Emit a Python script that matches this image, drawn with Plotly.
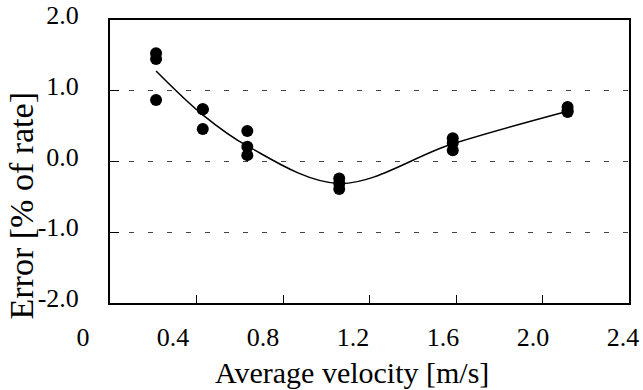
import plotly.graph_objects as go

# ---- data ----
velocity_groups = [0.213, 0.429, 0.635, 1.060, 1.585, 2.116]
point_velocity = [0.213, 0.213, 0.213,
                  0.429, 0.429, 0.429,
                  0.635, 0.635, 0.635,
                  1.060, 1.060, 1.060,
                  1.585, 1.585, 1.585,
                  2.116, 2.116, 2.116]
point_error = [1.53, 1.45, 0.87,
               0.74, 0.74, 0.46,
               0.43, 0.21, 0.09,
               -0.24, -0.31, -0.39,
               0.33, 0.26, 0.16,
               0.77, 0.72, 0.70]
curve_error = [1.28, 0.66, 0.22, -0.31, 0.25, 0.71]

x_tick_vals = [0, 0.4, 0.8, 1.2, 1.6, 2.0, 2.4]
x_tick_text = ["0", "0.4", "0.8", "1.2", "1.6", "2.0", "2.4"]
y_tick_vals = [-2, -1, 0, 1, 2]
y_tick_text = ["-2.0", "-1.0", "0.0", "1.0", "2.0"]

FONT = "'Liberation Serif', 'Times New Roman', Times, serif"
W, H = 643, 390
ML, MR, MT, MB = 80, 14, 20, 87
PW = W - ML - MR
PH = H - MT - MB

fig = go.Figure()

# invisible trace on the label axis (added first so it sits underneath)
fig.add_trace(go.Scatter(x=[None], y=[None], xaxis="x2", yaxis="y2",
                         mode="markers", showlegend=False, hoverinfo="skip"))

fig.add_trace(go.Scatter(
    x=velocity_groups, y=curve_error, mode="lines",
    line=dict(color="black", width=1.5, shape="spline", smoothing=1.0),
    showlegend=False, hoverinfo="skip"))

fig.add_trace(go.Scatter(
    x=point_velocity, y=point_error, mode="markers",
    marker=dict(color="black", size=12, line=dict(width=0)),
    showlegend=False))

fig.update_layout(
    width=W, height=H,
    margin=dict(l=ML, r=MR, t=MT, b=MB, pad=0, autoexpand=False),
    paper_bgcolor="white", plot_bgcolor="rgba(0,0,0,0)",
    font=dict(family=FONT, color="black"),
    xaxis=dict(
        domain=[(110 - ML) / PW, 1], range=[0, 2.4], automargin=False,
        tickvals=x_tick_vals, showticklabels=False,
        ticks="inside", ticklen=8, tickwidth=1, tickcolor="black",
        showline=True, linewidth=2, linecolor="black", mirror=True,
        showgrid=False, zeroline=False),
    yaxis=dict(
        range=[-2, 2], tickvals=y_tick_vals, ticktext=y_tick_text,
        automargin=False, ticklabeloverflow="allow",
        ticks="inside", ticklen=9, tickwidth=1, tickcolor="black",
        showline=True, linewidth=2, linecolor="black", mirror=True,
        showgrid=True, gridcolor="#444444", gridwidth=1, griddash="5px,14px",
        zeroline=False, tickfont=dict(size=26, family=FONT),
        ticklabelstandoff=24, ticklabelshift=-5),
    xaxis2=dict(
        domain=[(83 - ML) / PW, (623 - ML) / PW], range=[0, 2.4],
        anchor="y2", side="bottom", automargin=False,
        tickvals=x_tick_vals, ticktext=x_tick_text, ticks="",
        showline=False, showgrid=False, zeroline=False,
        tickfont=dict(size=26, family=FONT), ticklabelstandoff=16),
    yaxis2=dict(
        overlaying="y", anchor="x2", range=[-2, 2], automargin=False,
        showline=False, showgrid=False, zeroline=False,
        showticklabels=False, ticks=""),
    annotations=[
        dict(text="Error [% of rate]", textangle=-90,
             xref="paper", yref="paper",
             x=(21 - ML) / PW, y=(H - MB - 206.5) / PH,
             xanchor="center", yanchor="middle", showarrow=False,
             font=dict(size=34, family=FONT, color="black")),
        dict(text="Average velocity [m/s]",
             xref="paper", yref="paper",
             x=(352 - ML) / PW, y=(H - MB - 372) / PH,
             xanchor="center", yanchor="middle", showarrow=False,
             font=dict(size=30, family=FONT, color="black")),
    ],
)

fig.write_html("out.html")
